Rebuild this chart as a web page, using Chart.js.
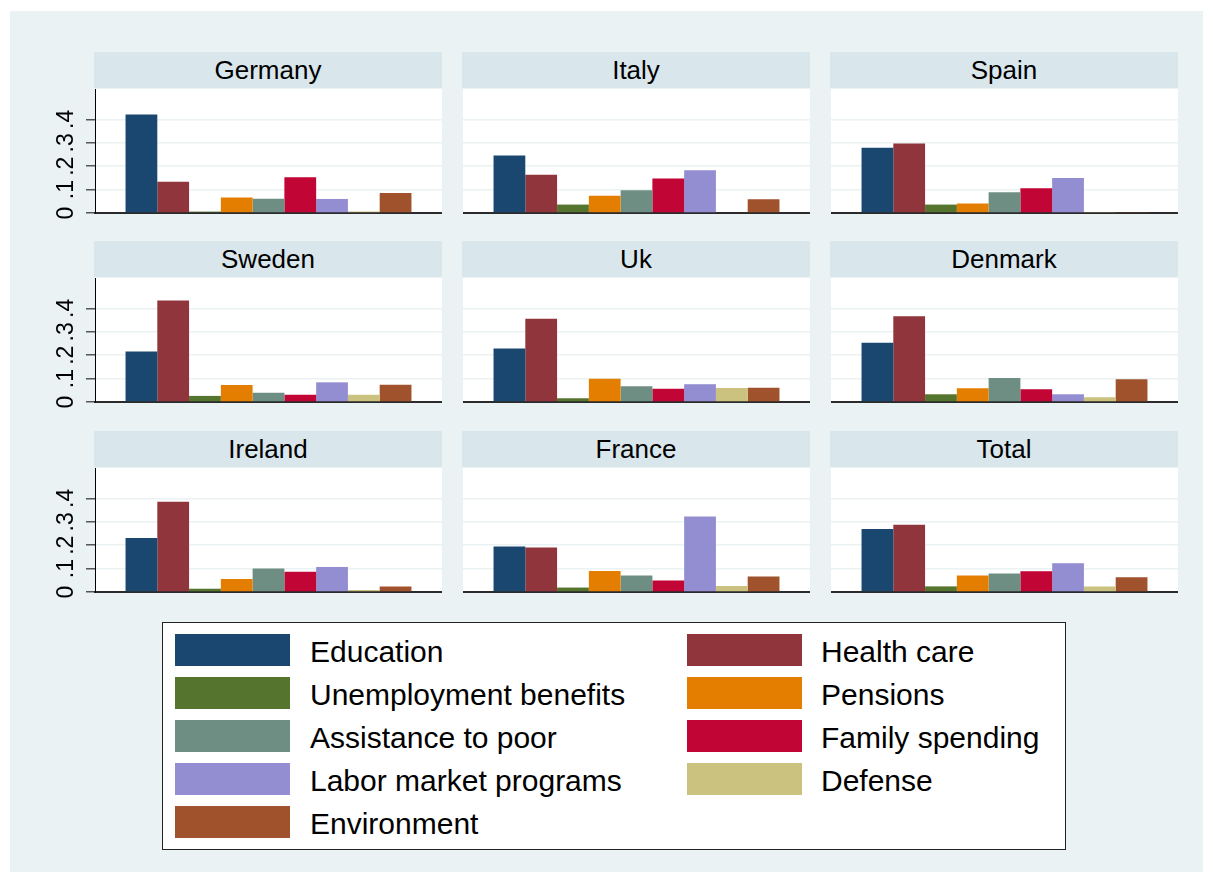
<!DOCTYPE html>
<html>
<head>
<meta charset="utf-8">
<script src="https://cdn.jsdelivr.net/npm/chart.js@4/dist/chart.umd.min.js"></script>
<style>
  body { margin: 0; background: #fff; font-family: "Liberation Sans", Arial, sans-serif; }
  #frame { position: absolute; left: 10px; top: 11px; width: 1193px; height: 861px; background: #eaf2f3; }
  .strip { position: absolute; height: 36px; background: #d9e6eb; font-size: 26px; line-height: 36px; text-align: center; color: #000; }
  canvas { position: absolute; }
  #legend { position: absolute; left: 162px; top: 622px; width: 902px; height: 226px; background: #fff; border: 1.5px solid #222; }
  .sw { position: absolute; width: 115px; height: 32px; }
  .lt { position: absolute; font-size: 30px; line-height: 32px; color: #000; white-space: nowrap; }
</style>
</head>
<body>
<div id="frame"></div>
<div id="legend"></div>

<script>
// spending shares by country (bars in each panel)
const countries = ['Germany', 'Italy', 'Spain', 'Sweden', 'Uk', 'Denmark', 'Ireland', 'France', 'Total'];
const education    = [0.421, 0.246, 0.279, 0.216, 0.229, 0.253, 0.231, 0.194, 0.269];
const healthCare   = [0.134, 0.163, 0.297, 0.434, 0.356, 0.367, 0.386, 0.190, 0.287];
const unemployment = [0.006, 0.036, 0.036, 0.026, 0.016, 0.033, 0.014, 0.019, 0.024];
const pensions     = [0.066, 0.074, 0.041, 0.073, 0.099, 0.059, 0.056, 0.090, 0.071];
const assistance   = [0.061, 0.097, 0.089, 0.040, 0.067, 0.103, 0.100, 0.071, 0.079];
const family       = [0.153, 0.147, 0.106, 0.031, 0.057, 0.054, 0.087, 0.049, 0.089];
const labor        = [0.060, 0.183, 0.150, 0.084, 0.076, 0.033, 0.107, 0.323, 0.123];
const defense      = [0.006, 0.003, 0.004, 0.031, 0.060, 0.020, 0.009, 0.026, 0.024];
const environment  = [0.086, 0.059, 0.004, 0.074, 0.061, 0.097, 0.023, 0.066, 0.063];

const yTickValues = [0, 0.1, 0.2, 0.3, 0.4];
const yTickLabels = ['0', '.1', '.2', '.3', '.4'];

const series = [
  { label: 'Education', data: education, color: '#1a476f' },
  { label: 'Health care', data: healthCare, color: '#90353b' },
  { label: 'Unemployment benefits', data: unemployment, color: '#55752f' },
  { label: 'Pensions', data: pensions, color: '#e37e00' },
  { label: 'Assistance to poor', data: assistance, color: '#6e8e84' },
  { label: 'Family spending', data: family, color: '#c10534' },
  { label: 'Labor market programs', data: labor, color: '#938dd2' },
  { label: 'Defense', data: defense, color: '#cac27e' },
  { label: 'Environment', data: environment, color: '#a0522d' },
];

// panel grid
const colLeft = [95, 463, 831];
const rowTop = [89, 278, 468];
const plotW = 347;
const axisW = 45;
const padBottom = 12;
const canvasH = 124 + padBottom;

const whiteArea = {
  id: 'whiteArea',
  beforeDraw(chart) {
    const a = chart.chartArea;
    chart.ctx.save();
    chart.ctx.fillStyle = '#fff';
    chart.ctx.fillRect(a.left, a.top, a.right - a.left, a.bottom - a.top);
    chart.ctx.restore();
  }
};

const rotatedTicks = {
  id: 'rotatedTicks',
  afterDraw(chart) {
    if (!chart.options.plugins.rotatedTicks.show) return;
    const ctx = chart.ctx;
    const y = chart.scales.y;
    ctx.save();
    ctx.fillStyle = '#000';
    ctx.font = '23px "Liberation Sans", Arial, sans-serif';
    ctx.textAlign = 'center';
    ctx.textBaseline = 'middle';
    yTickValues.forEach((v, i) => {
      ctx.save();
      ctx.translate(chart.chartArea.left - 28, y.getPixelForValue(v));
      ctx.rotate(-Math.PI / 2);
      ctx.fillText(yTickLabels[i], 0, 0);
      ctx.restore();
    });
    ctx.restore();
  }
};

countries.forEach((name, i) => {
  const col = i % 3, row = Math.floor(i / 3);
  const first = col === 0;

  const strip = document.createElement('div');
  strip.className = 'strip';
  strip.style.left = (colLeft[col] - 1) + 'px';
  strip.style.top = (rowTop[row] - 37) + 'px';
  strip.style.width = (plotW + 1) + 'px';
  strip.textContent = name;
  document.body.appendChild(strip);

  const cv = document.createElement('canvas');
  const w = first ? plotW + axisW : plotW;
  cv.width = w;
  cv.height = canvasH;
  cv.style.left = (first ? colLeft[col] - axisW : colLeft[col]) + 'px';
  cv.style.top = rowTop[row] + 'px';
  cv.style.width = w + 'px';
  cv.style.height = canvasH + 'px';
  document.body.appendChild(cv);

  new Chart(cv, {
    type: 'bar',
    data: {
      labels: [name],
      datasets: series.map(s => ({
        label: s.label,
        data: [s.data[i]],
        backgroundColor: s.color,
        borderWidth: 0,
        categoryPercentage: 0.824,
        barPercentage: 1.0
      }))
    },
    options: {
      responsive: false,
      animation: false,
      devicePixelRatio: 1,
      layout: { padding: { top: 0, right: 0, bottom: padBottom, left: 0 } },
      plugins: {
        legend: { display: false },
        tooltip: { enabled: false },
        rotatedTicks: { show: first }
      },
      scales: {
        x: {
          display: true,
          z: 1,
          grid: { display: false },
          ticks: { display: false },
          border: { display: true, color: '#2b2b2b', width: 2 },
          afterFit: s => { s.height = 0; }
        },
        y: {
          min: 0,
          max: 0.53,
          afterBuildTicks: s => { s.ticks = yTickValues.map(v => ({ value: v })); },
          ticks: { display: false },
          grid: {
            color: ctx => ctx.tick && ctx.tick.value === 0 ? 'rgba(0,0,0,0)' : '#eaf2f3',
            lineWidth: 1.5,
            drawTicks: first,
            tickLength: 9,
            tickColor: '#555'
          },
          border: { display: first, color: '#000', width: 1 },
          afterFit: s => { s.width = first ? axisW : 0; }
        }
      }
    },
    plugins: [whiteArea, rotatedTicks]
  });
});

// legend, two columns
const legend = document.getElementById('legend');
const legRows = [634, 677, 720, 763, 806];
series.forEach((s, k) => {
  const c = k % 2, r = Math.floor(k / 2);
  const sw = document.createElement('div');
  sw.className = 'sw';
  sw.style.background = s.color;
  sw.style.left = (c === 0 ? 175 : 687) - 163 + 'px';
  sw.style.top = legRows[r] - 623 + 'px';
  legend.appendChild(sw);
  const t = document.createElement('div');
  t.className = 'lt';
  t.style.left = (c === 0 ? 310 : 821) - 163 + 'px';
  t.style.top = legRows[r] + 2 - 623 + 'px';
  t.textContent = s.label;
  legend.appendChild(t);
});
</script>
</body>
</html>
